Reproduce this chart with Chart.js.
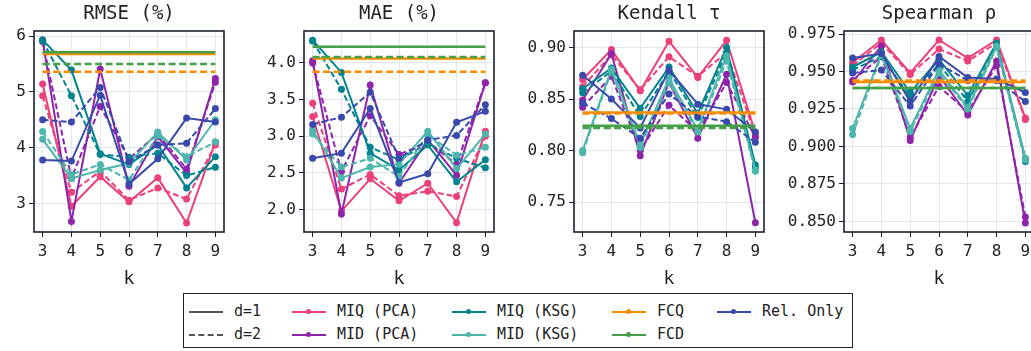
<!DOCTYPE html>
<html>
<head>
<meta charset="utf-8">
<script src="https://cdn.jsdelivr.net/npm/chart.js@4"></script>
<style>
body { margin: 0; background: #fff; width: 1031px; height: 351px; overflow: hidden; position: relative; font-family: "DejaVu Sans Mono", monospace; }
canvas { position: absolute; top: 0; }
#legend { position: absolute; left: 183px; top: 293px; width: 670px; height: 55px; border: 1.5px solid #222; box-sizing: border-box; }
.item { position: absolute; font-size: 15px; color: #222; line-height: 18px; white-space: pre; }
.swatch { position: absolute; width: 34px; height: 0; }
.dot { position: absolute; left: 14px; width: 5px; height: 5px; border-radius: 50%; }
</style>
</head>
<body>
<canvas id="c1"></canvas>
<canvas id="c2"></canvas>
<canvas id="c3"></canvas>
<canvas id="c4"></canvas>
<div id="legend"></div>
<script>
// k values on the x axis
const ks = [3, 4, 5, 6, 7, 8, 9];

// RMSE (%)
const rmseMiqPca1 = [5.14, 2.95, 3.48, 3.03, 3.46, 2.65, 4.10];
const rmseMiqPca2 = [4.93, 3.20, 3.58, 3.06, 3.28, 3.08, 4.05];
const rmseMidPca1 = [5.93, 2.68, 5.41, 3.31, 4.20, 3.55, 5.24];
const rmseMidPca2 = [5.90, 3.45, 4.74, 3.80, 4.25, 3.62, 5.17];
const rmseMiqKsg1 = [5.93, 5.39, 3.89, 3.70, 4.05, 3.28, 3.84];
const rmseMiqKsg2 = [5.92, 4.93, 3.88, 3.83, 3.90, 3.50, 3.65];
const rmseMidKsg1 = [4.15, 3.45, 3.60, 3.72, 4.28, 3.78, 4.50];
const rmseMidKsg2 = [4.29, 3.52, 3.70, 3.42, 4.22, 3.84, 4.10];
const rmseRel1 = [3.78, 3.76, 4.94, 3.35, 3.80, 4.53, 4.46];
const rmseRel2 = [4.50, 4.46, 5.08, 3.75, 4.05, 4.08, 4.70];
const rmseFcq = [5.68, 5.36];
const rmseFcd = [5.71, 5.50];

// MAE (%)
const maeMiqPca1 = [3.27, 1.98, 2.42, 2.12, 2.36, 1.82, 3.07];
const maeMiqPca2 = [3.45, 2.28, 2.48, 2.19, 2.25, 2.18, 3.00];
const maeMidPca1 = [4.03, 1.94, 3.70, 2.36, 2.95, 2.47, 3.73];
const maeMidPca2 = [4.00, 2.52, 3.28, 2.75, 2.92, 2.62, 3.73];
const maeMiqKsg1 = [4.31, 3.87, 2.77, 2.54, 2.88, 2.38, 2.68];
const maeMiqKsg2 = [4.30, 3.64, 2.85, 2.68, 2.90, 2.70, 2.57];
const maeMidKsg1 = [3.08, 2.43, 2.58, 2.62, 3.07, 2.56, 3.03];
const maeMidKsg2 = [3.03, 2.58, 2.70, 2.45, 3.02, 2.74, 2.85];
const maeRel1 = [2.70, 2.77, 3.38, 2.37, 2.49, 3.19, 3.34];
const maeRel2 = [3.16, 3.26, 3.60, 2.70, 2.95, 3.01, 3.43];
const maeFcq = [4.06, 3.88];
const maeFcd = [4.22, 4.08];

// Kendall tau
const kenMiqPca1 = [0.869, 0.898, 0.858, 0.906, 0.871, 0.907, 0.817];
const kenMiqPca2 = [0.862, 0.893, 0.859, 0.891, 0.872, 0.895, 0.815];
const kenMidPca1 = [0.849, 0.894, 0.795, 0.866, 0.812, 0.874, 0.730];
const kenMidPca2 = [0.842, 0.872, 0.800, 0.844, 0.818, 0.866, 0.813];
const kenMiqKsg1 = [0.860, 0.880, 0.841, 0.881, 0.836, 0.900, 0.786];
const kenMiqKsg2 = [0.856, 0.877, 0.833, 0.877, 0.832, 0.895, 0.783];
const kenMidKsg1 = [0.800, 0.879, 0.806, 0.870, 0.820, 0.892, 0.781];
const kenMidKsg2 = [0.798, 0.877, 0.803, 0.866, 0.818, 0.887, 0.780];
const kenRel1 = [0.873, 0.850, 0.822, 0.878, 0.845, 0.840, 0.818];
const kenRel2 = [0.846, 0.831, 0.812, 0.855, 0.833, 0.828, 0.808];
const kenFcq = [0.837, 0.836];
const kenFcd = [0.824, 0.822];

// Spearman rho
const spMiqPca1 = [0.956, 0.971, 0.949, 0.971, 0.959, 0.971, 0.919];
const spMiqPca2 = [0.954, 0.969, 0.948, 0.965, 0.957, 0.969, 0.918];
const spMidPca1 = [0.943, 0.967, 0.904, 0.947, 0.921, 0.957, 0.849];
const spMidPca2 = [0.944, 0.960, 0.906, 0.940, 0.923, 0.954, 0.853];
const spMiqKsg1 = [0.953, 0.963, 0.936, 0.958, 0.934, 0.969, 0.892];
const spMiqKsg2 = [0.951, 0.960, 0.933, 0.955, 0.930, 0.967, 0.890];
const spMidKsg1 = [0.912, 0.962, 0.912, 0.951, 0.926, 0.967, 0.892];
const spMidKsg2 = [0.908, 0.961, 0.910, 0.949, 0.925, 0.966, 0.891];
const spRel1 = [0.959, 0.962, 0.930, 0.960, 0.946, 0.945, 0.936];
const spRel2 = [0.949, 0.951, 0.927, 0.955, 0.944, 0.944, 0.930];
const spFcq = [0.943, 0.944];
const spFcd = [0.939, 0.939];

const colors = {
    miqPca: '#ec407a',
    midPca: '#8e24aa',
    miqKsg: '#00838f',
    midKsg: '#4db6ac',
    fcq: '#fb8c00',
    fcd: '#43a047',
    rel: '#3949ab'
};

const frame = {
    id: 'frame',
    afterDraw(chart, args, opts) {
        const { ctx, chartArea: a } = chart;
        ctx.save();
        ctx.strokeStyle = '#1c2130';
        ctx.lineWidth = 1.6;
        ctx.strokeRect(a.left, a.top, a.right - a.left, a.bottom - a.top);
        ctx.font = '19px "DejaVu Sans Mono"';
        ctx.fillStyle = '#222';
        ctx.textAlign = 'center';
        ctx.textBaseline = 'middle';
        ctx.fillText(opts.text, (a.left + a.right) / 2, 14);
        ctx.restore();
    }
};

function line(label, vals, color, dashed) {
    return {
        label: label,
        data: vals.map((v, i) => ({ x: ks[i], y: v })),
        borderColor: color,
        backgroundColor: color,
        borderWidth: 2,
        borderDash: dashed ? [6, 3] : [],
        pointRadius: 3.5,
        pointBorderWidth: 0,
        tension: 0
    };
}

function flat(label, v, color, dashed) {
    return {
        label: label,
        data: [{ x: ks[0], y: v }, { x: ks[ks.length - 1], y: v }],
        borderColor: color,
        borderWidth: 2.5,
        borderDash: dashed ? [7, 3.5] : [],
        pointRadius: 0
    };
}

function makePanel(id, left, yw, title, min, max, step, dec, s) {
    const cv = document.getElementById(id);
    cv.width = yw + 190 + 8;
    cv.height = 292;
    cv.style.left = left + 'px';

    const sets = [
        line('MIQ (PCA)', s[0], colors.miqPca, false),
        line('MIQ (PCA)', s[1], colors.miqPca, true),
        line('MID (PCA)', s[2], colors.midPca, false),
        line('MID (PCA)', s[3], colors.midPca, true),
        line('MIQ (KSG)', s[4], colors.miqKsg, false),
        line('MIQ (KSG)', s[5], colors.miqKsg, true),
        line('MID (KSG)', s[6], colors.midKsg, false),
        line('MID (KSG)', s[7], colors.midKsg, true),
        line('Rel. Only', s[8], colors.rel, false),
        line('Rel. Only', s[9], colors.rel, true),
        flat('FCQ', s[10][0], colors.fcq, false),
        flat('FCQ', s[10][1], colors.fcq, true),
        flat('FCD', s[11][0], colors.fcd, false),
        flat('FCD', s[11][1], colors.fcd, true)
    ];
    // later datasets drawn on top
    sets.forEach((d, i) => { d.order = sets.length - i; });

    new Chart(cv, {
        type: 'line',
        data: { datasets: sets },
        plugins: [frame],
        options: {
            responsive: false,
            animation: false,
            layout: { padding: { top: 31, right: 8, left: 0, bottom: 0 } },
            plugins: {
                legend: { display: false },
                tooltip: { enabled: false },
                frame: { text: title }
            },
            scales: {
                x: {
                    type: 'linear',
                    min: 2.7,
                    max: 9.3,
                    afterFit: (sc) => { sc.height = 60; },
                    ticks: { stepSize: 1, includeBounds: false, color: '#222', padding: 5, font: { family: 'DejaVu Sans Mono', size: 16 } },
                    grid: { color: '#e1e6ef', tickColor: '#1c2130', tickLength: 5 },
                    border: { display: false },
                    title: { display: true, text: 'k', color: '#222', padding: { top: 0, bottom: 2 }, font: { family: 'DejaVu Sans Mono', size: 18 } }
                },
                y: {
                    min: min,
                    max: max,
                    afterFit: (sc) => { sc.width = yw; },
                    ticks: {
                        stepSize: step,
                        includeBounds: false,
                        color: '#222',
                        padding: 3,
                        font: { family: 'DejaVu Sans Mono', size: 16 },
                        callback: (v) => v.toFixed(dec)
                    },
                    grid: { color: '#e1e6ef', tickColor: '#1c2130', tickLength: 5 },
                    border: { display: false }
                }
            }
        }
    });
}

makePanel('c1', 0, 34, 'RMSE (%)', 2.49, 6.09, 1, 0,
    [rmseMiqPca1, rmseMiqPca2, rmseMidPca1, rmseMidPca2, rmseMiqKsg1, rmseMiqKsg2, rmseMidKsg1, rmseMidKsg2, rmseRel1, rmseRel2, rmseFcq, rmseFcd]);
makePanel('c2', 255, 49, 'MAE (%)', 1.695, 4.435, 0.5, 1,
    [maeMiqPca1, maeMiqPca2, maeMidPca1, maeMidPca2, maeMiqKsg1, maeMiqKsg2, maeMidKsg1, maeMidKsg2, maeRel1, maeRel2, maeFcq, maeFcd]);
makePanel('c3', 515, 59, 'Kendall τ', 0.721, 0.916, 0.05, 2,
    [kenMiqPca1, kenMiqPca2, kenMidPca1, kenMidPca2, kenMiqKsg1, kenMiqKsg2, kenMidKsg1, kenMidKsg2, kenRel1, kenRel2, kenFcq, kenFcd]);
makePanel('c4', 775, 69, 'Spearman ρ', 0.843, 0.977, 0.025, 3,
    [spMiqPca1, spMiqPca2, spMidPca1, spMidPca2, spMiqKsg1, spMiqKsg2, spMidKsg1, spMidKsg2, spRel1, spRel2, spFcq, spFcd]);

// legend
const legendLabels = ['d=1', 'd=2', 'MIQ (PCA)', 'MID (PCA)', 'MIQ (KSG)', 'MID (KSG)', 'FCQ', 'FCD', 'Rel. Only'];
const legendColors = ['#555', '#555', colors.miqPca, colors.midPca, colors.miqKsg, colors.midKsg, colors.fcq, colors.fcd, colors.rel];
const colX = [5, 108, 268, 428, 533];
const rowY = [18, 41];
const legend = document.getElementById('legend');
legendLabels.forEach((lab, i) => {
    const col = Math.floor(i / 2), row = i % 2;
    const sw = document.createElement('div');
    sw.className = 'swatch';
    sw.style.left = colX[col] + 'px';
    sw.style.top = (rowY[row] - 1.5) + 'px';
    sw.style.borderTop = (col === 0 ? '2px ' : '2.5px ') + (i === 1 ? 'dashed ' : 'solid ') + legendColors[i];
    if (col > 0) {
        const dot = document.createElement('div');
        dot.className = 'dot';
        dot.style.top = '-3.8px';
        dot.style.background = legendColors[i];
        sw.appendChild(dot);
    }
    legend.appendChild(sw);
    const t = document.createElement('div');
    t.className = 'item';
    t.textContent = lab;
    t.style.left = (colX[col] + 45) + 'px';
    t.style.top = (rowY[row] - 10) + 'px';
    legend.appendChild(t);
});
</script>
</body>
</html>
